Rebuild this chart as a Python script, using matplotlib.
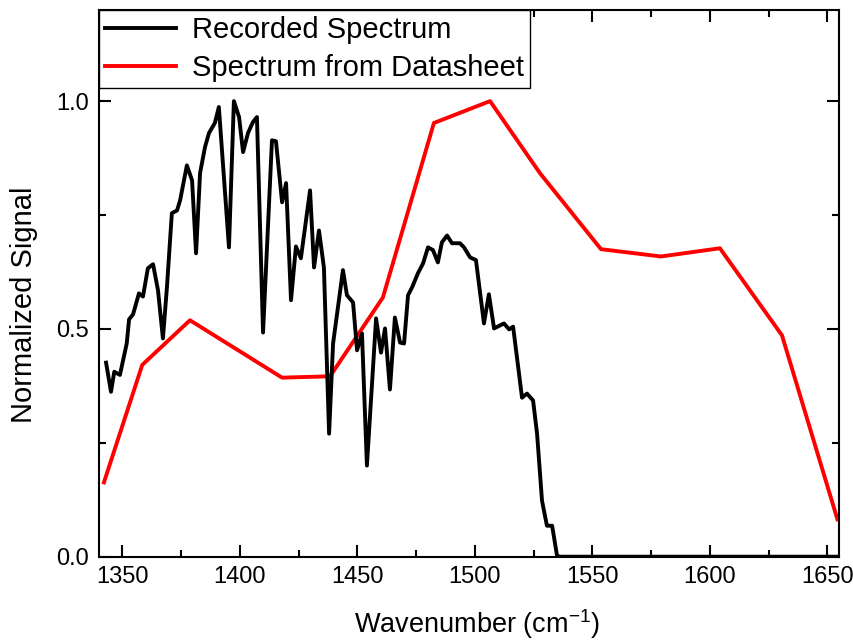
import matplotlib
matplotlib.use("Agg")
import matplotlib.pyplot as plt
from matplotlib.ticker import MultipleLocator

plt.rcParams['font.family'] = ['Liberation Sans', 'DejaVu Sans']
plt.rcParams['mathtext.fontset'] = 'custom'
plt.rcParams['mathtext.rm'] = 'Liberation Sans'

# Recorded spectrum (black)
rec_x = [1343.1, 1345.2, 1346.6, 1349.0, 1351.9, 1352.9, 1354.6, 1357.1, 1358.8, 1360.9,
         1363.1, 1365.2, 1367.3, 1369.0, 1371.1, 1373.3, 1374.6, 1377.5, 1379.7, 1381.4,
         1383.1, 1385.2, 1386.9, 1389.4, 1391.1, 1395.4, 1397.5, 1399.7, 1401.4, 1403.5,
         1405.6, 1407.3, 1409.9, 1413.7, 1415.4, 1418.0, 1419.7, 1421.8, 1423.9, 1426.0,
         1429.9, 1431.6, 1433.7, 1435.8, 1438.0, 1439.7, 1443.9, 1445.6, 1448.2, 1449.9,
         1452.0, 1454.1, 1458.0, 1460.1, 1461.8, 1463.9, 1466.0, 1468.2, 1469.9, 1471.6,
         1473.3, 1475.8, 1478.0, 1480.1, 1482.2, 1484.3, 1486.0, 1488.2, 1490.3, 1493.7,
         1495.4, 1498.0, 1500.5, 1503.9, 1506.0, 1508.2, 1512.4, 1514.6, 1516.3, 1520.1,
         1522.2, 1524.8, 1526.5, 1528.6, 1530.7, 1532.9, 1535.0, 1536.3, 1655.0]
rec_y = [0.426, 0.362, 0.406, 0.399, 0.468, 0.521, 0.532, 0.578, 0.571, 0.633,
         0.642, 0.585, 0.479, 0.591, 0.754, 0.760, 0.782, 0.859, 0.826, 0.666,
         0.842, 0.899, 0.930, 0.952, 0.987, 0.679, 1.000, 0.965, 0.888, 0.930,
         0.954, 0.965, 0.492, 0.914, 0.912, 0.778, 0.820, 0.563, 0.681, 0.655,
         0.804, 0.635, 0.716, 0.635, 0.270, 0.468, 0.629, 0.574, 0.558, 0.453,
         0.490, 0.200, 0.523, 0.448, 0.501, 0.367, 0.525, 0.470, 0.468, 0.574,
         0.591, 0.622, 0.644, 0.679, 0.673, 0.646, 0.690, 0.705, 0.688, 0.688,
         0.679, 0.657, 0.651, 0.512, 0.576, 0.501, 0.512, 0.499, 0.505, 0.349,
         0.358, 0.343, 0.270, 0.123, 0.068, 0.068, 0.002, 0.0, 0.0]

# Spectrum from datasheet (red)
ds_x = [1342.2, 1358.5, 1378.8, 1418.0, 1438.4, 1460.9, 1482.6, 1506.5, 1527.7,
        1553.7, 1579.2, 1604.3, 1630.7, 1654.3]
ds_y = [0.163, 0.421, 0.519, 0.393, 0.396, 0.569, 0.952, 1.0, 0.842,
        0.675, 0.659, 0.677, 0.486, 0.082]

x_ticks = [1350, 1400, 1450, 1500, 1550, 1600, 1650]
y_ticks = [0.0, 0.5, 1.0]

fig = plt.figure(figsize=(8.54, 6.42), dpi=100)
ax = fig.add_axes([99 / 854, 1 - 556.7 / 642, (839.3 - 99) / 854, (556.7 - 10) / 642])

ax.plot(rec_x, rec_y, color='black', lw=2.8, label='Recorded Spectrum', zorder=3)
ax.plot(ds_x, ds_y, color='#ff0000', lw=2.8, label='Spectrum from Datasheet', zorder=2)

ax.set_xlim(1340.1, 1655.1)
ax.set_ylim(0, 1.2)
ax.set_xticks(x_ticks)
ax.set_yticks(y_ticks)
ax.set_yticklabels([f"{v:.1f}" for v in y_ticks])
ax.xaxis.set_minor_locator(MultipleLocator(25))
ax.yaxis.set_minor_locator(MultipleLocator(0.25))
ax.tick_params(which='both', direction='in', top=True, right=True, width=1.5, labelsize=17)
ax.tick_params(which='major', length=8.5, pad=7)
ax.tick_params(which='minor', length=5)
for s in ax.spines.values():
    s.set_linewidth(1.5)

ax.set_xlabel('Wavenumber (cm$^{\\mathrm{-1}}$)', fontsize=19.5)
ax.xaxis.set_label_coords(0.51, -0.092)
ax.set_ylabel('Normalized Signal', fontsize=21)
ax.yaxis.set_label_coords(-0.082, 0.46)

leg = ax.legend(loc='upper left', bbox_to_anchor=(0, 1), borderaxespad=0, fontsize=21,
                frameon=True, fancybox=False, framealpha=1, edgecolor='black',
                handlelength=2.45, handletextpad=0.55, labelspacing=0.35, borderpad=0.2)
leg.get_frame().set_linewidth(1.0)

fig.savefig('out.png', dpi=100)
